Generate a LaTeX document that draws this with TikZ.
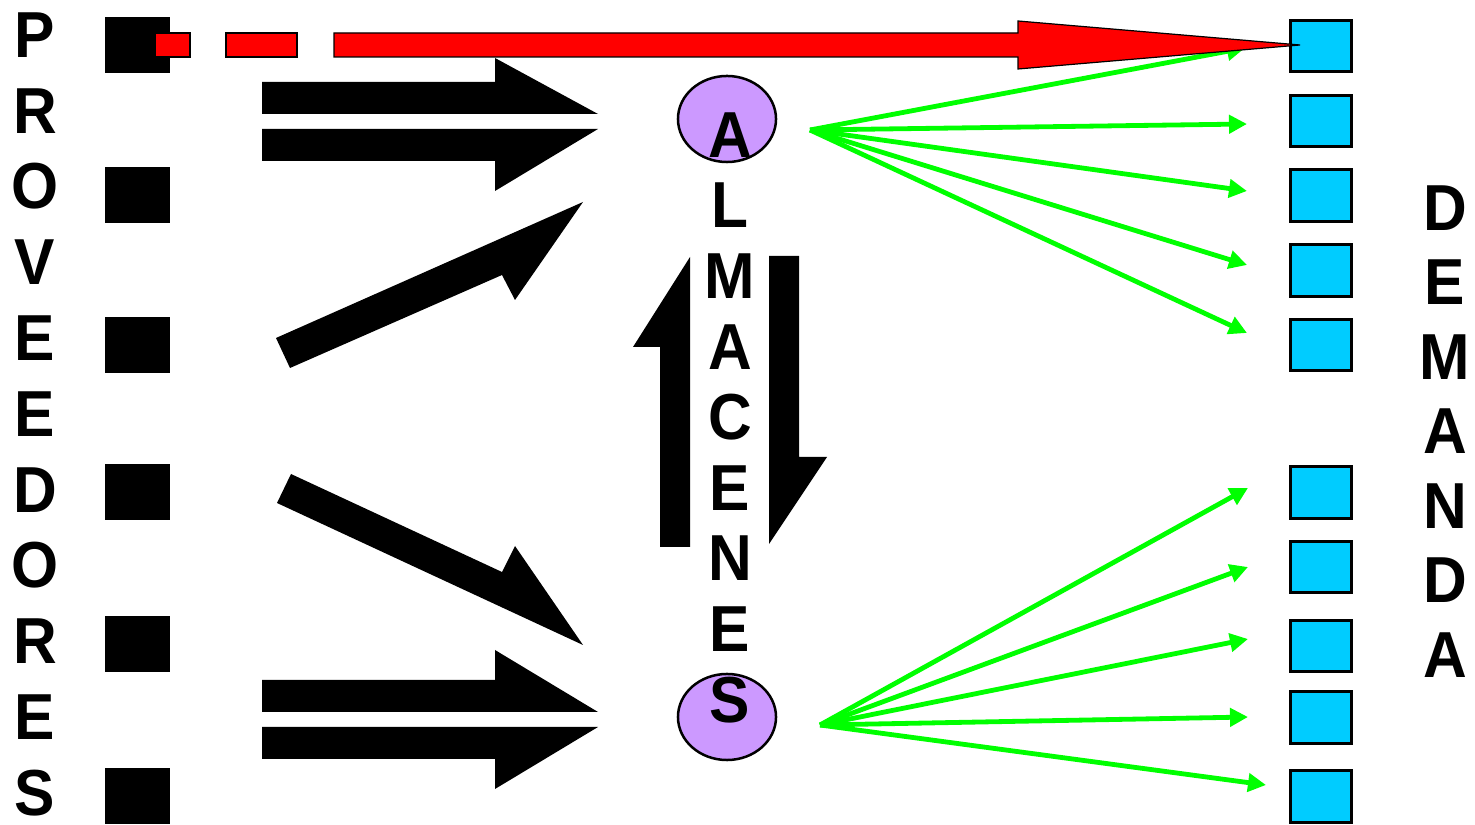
\documentclass[tikz,border=0pt]{standalone}
\usepackage{fontspec}
\setmainfont{Liberation Sans}
\usetikzlibrary{shapes.geometric,arrows.meta}

\definecolor{lila}{HTML}{CC99FF}
\definecolor{celeste}{HTML}{00CCFF}
\definecolor{verde}{HTML}{00FF00}

\tikzset{
	letra/.style={font=\fontsize{18.5}{18.5}\selectfont\bfseries, inner sep=0pt, xscale=0.93},
	prov/.style={fill=black, minimum width=0.65cm, minimum height=0.55cm, inner sep=0pt},
	dem/.style={draw=black, line width=0.03cm, fill=celeste, minimum width=0.61cm, minimum height=0.51cm, inner sep=0pt},
	alm/.style={draw=black, line width=0.025cm, fill=lila, ellipse, minimum width=0.98cm, minimum height=0.86cm, inner sep=0pt},
	flujo/.style={fill=black},
	roja/.style={fill=red, draw=black, line width=0.012cm},
	envio/.style={draw=verde, line width=0.048cm, -{Triangle[length=0.18cm,width=0.18cm]}},
}

\begin{document}
\begin{tikzpicture}[x=0.01cm, y=-0.01cm]
	\useasboundingbox (0,0) rectangle (1475,825);
	
	% flujos proveedores -> almacenes
	\fill[flujo] (262,82) -- (495,82) -- (495,58) -- (598,114) -- (262,114) -- cycle;
	\fill[flujo] (262,129) -- (598,129) -- (495,191) -- (495,161) -- (262,161) -- cycle;
	\fill[flujo] (276,338) -- (583,202) -- (515,300) -- (502,275) -- (290,368) -- cycle;
	\fill[flujo] (291,474) -- (502,572) -- (515,546) -- (583,645) -- (277,503) -- cycle;
	\fill[flujo] (262,680) -- (495,680) -- (495,650) -- (598,712) -- (262,712) -- cycle;
	\fill[flujo] (262,727) -- (598,727) -- (495,789) -- (495,759) -- (262,759) -- cycle;
	% entre almacenes
	\fill[flujo] (660,547) -- (660,347) -- (633,347) -- (690,257) -- (690,547) -- cycle;
	\fill[flujo] (769,256) -- (799,256) -- (799,457) -- (827,457) -- (769,544) -- cycle;
	
	\node[alm] (almA) at (727,119) {};
	\node[alm] (almS) at (727,717) {};
	
	\foreach \l [count=\i from 0] in {P,R,O,V,E,E,D,O,R,E,S}
		\node[letra] (lp\i) at (35, 35+75.8*\i) {\l};
	\foreach \l [count=\i from 0] in {A,L,M,A,C,E,N,E,S}
		\node[letra] (la\i) at (730, 135+70.6*\i) {\l};
	\foreach \l [count=\i from 0] in {D,E,M,A,N,D,A}
		\node[letra] (ld\i) at (1445, 208+74.5*\i) {\l};
	
	\foreach \y [count=\i] in {45,195,345,492,644,796}
		\node[prov] (pv\i) at (137.5,\y) {};
	\foreach \y [count=\i] in {46,121,195.5,270.5,345,492.5,567,646,717.5,796.5}
		\node[dem] (dm\i) at (1321,\y) {};
	
	% envios a la demanda
	\coordinate (oA) at (810,130);
	\coordinate (oS) at (820,725);
	\foreach \x/\y [count=\i] in {1245/48,1247/124,1247/191,1247/265,1247/333}{
		\coordinate (tA\i) at (\x,\y);
		\draw[envio] (oA) -- (tA\i);
	}
	\foreach \x/\y [count=\i] in {1248/488,1248/567,1248/639,1248/717,1266/785}{
		\coordinate (tS\i) at (\x,\y);
		\draw[envio] (oS) -- (tS\i);
	}
	
	% envio directo
	\coordinate (tR) at (1300,45);
	\draw[roja] (155,33) rectangle (190,57);
	\draw[roja] (226,33) rectangle (297,57);
	\draw[roja] (334,33) -- (1018,33) -- (1018,21) -- (tR) -- (1018,69) -- (1018,57) -- (334,57) -- cycle;
\end{tikzpicture}
\end{document}
